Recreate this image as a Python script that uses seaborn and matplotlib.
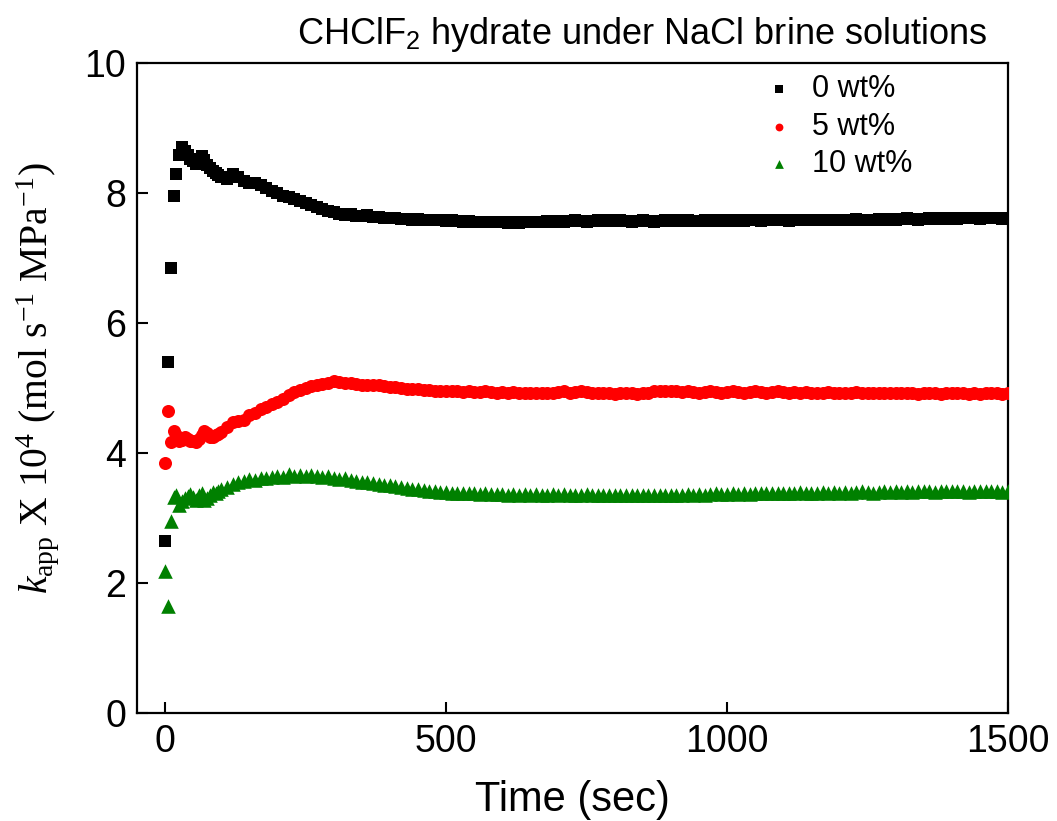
import numpy as np
import pandas as pd
import matplotlib
matplotlib.use("Agg")
import matplotlib.pyplot as plt
import seaborn as sns

# ---------------- data ----------------
time_early = list(range(0, 100, 5))          # 0..95 s, 5 s steps
time_late = list(range(100, 1501, 10))       # 100..1500 s, 10 s steps
time = time_early + time_late

black_early = [2.65, 5.40, 6.84, 7.96, 8.29, 8.58, 8.70, 8.65, 8.58, 8.53,
               8.49, 8.45, 8.52, 8.57, 8.50, 8.43, 8.39, 8.34, 8.31, 8.27]
black_late = [8.24, 8.21, 8.29, 8.24, 8.19, 8.16, 8.15, 8.12, 8.08, 8.03,
              8.00, 7.96, 7.94, 7.91, 7.88, 7.85, 7.82, 7.78, 7.76, 7.73,
              7.70, 7.68, 7.66, 7.67, 7.65, 7.64, 7.66, 7.63, 7.63, 7.62,
              7.61, 7.62, 7.60, 7.60, 7.59, 7.60, 7.59, 7.58, 7.59, 7.58,
              7.57, 7.58, 7.57, 7.56, 7.57, 7.56, 7.56, 7.55, 7.56, 7.55,
              7.55, 7.54, 7.55, 7.54, 7.55, 7.56, 7.55, 7.56, 7.57, 7.56,
              7.57, 7.56, 7.57, 7.58, 7.57, 7.56, 7.57, 7.58, 7.57, 7.58,
              7.57, 7.58, 7.57, 7.56, 7.57, 7.58, 7.57, 7.56, 7.57, 7.58,
              7.57, 7.58, 7.57, 7.58, 7.57, 7.57, 7.58, 7.57, 7.58, 7.57,
              7.58, 7.57, 7.58, 7.57, 7.58, 7.58, 7.57, 7.58, 7.59, 7.58,
              7.58, 7.57, 7.58, 7.59, 7.58, 7.58, 7.59, 7.58, 7.59, 7.58,
              7.59, 7.58, 7.59, 7.60, 7.59, 7.58, 7.59, 7.60, 7.59, 7.60,
              7.59, 7.60, 7.61, 7.60, 7.59, 7.60, 7.61, 7.60, 7.61, 7.60,
              7.61, 7.60, 7.61, 7.62, 7.61, 7.60, 7.61, 7.62, 7.61, 7.60,
              7.61]

red_early = [3.84, 4.65, 4.17, 4.34, 4.27, 4.18, 4.20, 4.24, 4.22, 4.18,
             4.19, 4.17, 4.22, 4.28, 4.34, 4.30, 4.25, 4.24, 4.27, 4.29]
red_late = [4.33, 4.40, 4.47, 4.49, 4.51, 4.58, 4.62, 4.67, 4.70, 4.75,
            4.79, 4.83, 4.89, 4.94, 4.97, 5.00, 5.03, 5.04, 5.06, 5.08,
            5.11, 5.09, 5.08, 5.07, 5.06, 5.05, 5.04, 5.05, 5.04, 5.03,
            5.02, 5.01, 5.00, 4.99, 4.98, 4.98, 4.97, 4.97, 4.96, 4.96,
            4.95, 4.96, 4.95, 4.94, 4.95, 4.94, 4.94, 4.95, 4.94, 4.93,
            4.94, 4.93, 4.94, 4.93, 4.92, 4.93, 4.92, 4.93, 4.92, 4.93,
            4.94, 4.95, 4.93, 4.94, 4.95, 4.94, 4.93, 4.92, 4.93, 4.92,
            4.91, 4.92, 4.93, 4.92, 4.91, 4.92, 4.93, 4.95, 4.96, 4.95,
            4.96, 4.95, 4.94, 4.95, 4.94, 4.93, 4.94, 4.95, 4.94, 4.93,
            4.94, 4.95, 4.94, 4.93, 4.94, 4.95, 4.94, 4.93, 4.94, 4.95,
            4.94, 4.93, 4.94, 4.93, 4.94, 4.93, 4.92, 4.93, 4.94, 4.93,
            4.93, 4.92, 4.93, 4.94, 4.93, 4.92, 4.93, 4.92, 4.93, 4.92,
            4.93, 4.92, 4.93, 4.92, 4.91, 4.92, 4.93, 4.92, 4.91, 4.92,
            4.92, 4.93, 4.92, 4.91, 4.92, 4.91, 4.92, 4.93, 4.92, 4.91,
            4.92]

green_early = [2.18, 1.64, 2.95, 3.33, 3.36, 3.20, 3.26, 3.30, 3.34, 3.37,
               3.32, 3.28, 3.35, 3.38, 3.27, 3.30, 3.36, 3.40, 3.38, 3.42]
green_late = [3.44, 3.48, 3.52, 3.55, 3.57, 3.60, 3.59, 3.62, 3.61, 3.63,
              3.64, 3.63, 3.67, 3.65, 3.66, 3.64, 3.66, 3.64, 3.63, 3.64,
              3.62, 3.60, 3.61, 3.59, 3.57, 3.56, 3.55, 3.54, 3.52, 3.51,
              3.50, 3.49, 3.48, 3.46, 3.45, 3.44, 3.43, 3.42, 3.41, 3.40,
              3.40, 3.39, 3.39, 3.38, 3.39, 3.38, 3.37, 3.38, 3.37, 3.37,
              3.37, 3.36, 3.37, 3.36, 3.37, 3.36, 3.37, 3.36, 3.36, 3.37,
              3.36, 3.37, 3.36, 3.35, 3.36, 3.37, 3.36, 3.35, 3.36, 3.36,
              3.35, 3.36, 3.35, 3.36, 3.35, 3.36, 3.35, 3.36, 3.35, 3.36,
              3.36, 3.35, 3.36, 3.37, 3.36, 3.37, 3.36, 3.37, 3.38, 3.37,
              3.37, 3.38, 3.37, 3.38, 3.37, 3.38, 3.39, 3.38, 3.39, 3.38,
              3.39, 3.38, 3.39, 3.40, 3.39, 3.38, 3.39, 3.40, 3.39, 3.40,
              3.39, 3.40, 3.39, 3.40, 3.41, 3.40, 3.39, 3.40, 3.41, 3.40,
              3.41, 3.40, 3.41, 3.40, 3.41, 3.42, 3.41, 3.40, 3.41, 3.42,
              3.41, 3.42, 3.41, 3.40, 3.41, 3.42, 3.41, 3.42, 3.41, 3.40,
              3.41]

series_labels = ["0 wt%", "5 wt%", "10 wt%"]
series_values = [black_early + black_late, red_early + red_late, green_early + green_late]
series_colors = ["black", "#ff0000", "#008000"]
series_markers = ["s", "o", "^"]
series_sizes = [78, 88, 110]

x_ticks = [0, 500, 1000, 1500]
y_ticks = [0, 2, 4, 6, 8, 10]

# ---------------- style ----------------
sns.set_theme(style="white")
plt.rcParams["font.family"] = ["Liberation Sans", "DejaVu Sans"]
plt.rcParams["text.color"] = "black"
plt.rcParams["axes.labelcolor"] = "black"
plt.rcParams["xtick.color"] = "black"
plt.rcParams["ytick.color"] = "black"
plt.rcParams["mathtext.fontset"] = "custom"
plt.rcParams["mathtext.rm"] = "Liberation Serif"
plt.rcParams["mathtext.it"] = "Liberation Serif:italic"
plt.rcParams["mathtext.sf"] = "Liberation Sans"

fig = plt.figure(figsize=(10.57, 8.21), dpi=100)
ax = fig.add_axes([137 / 1057, 1 - 713 / 821, (1008 - 137) / 1057, (713 - 63) / 821])

for lab, vals, col, mk, sz in zip(series_labels, series_values, series_colors,
                                  series_markers, series_sizes):
    df = pd.DataFrame({"time": time, "k": vals})
    sns.scatterplot(data=df, x="time", y="k", ax=ax, color=col, marker=mk,
                    s=sz, linewidth=0, label=lab, zorder=3)

ax.set_xlim(-50, 1500)
ax.set_ylim(0, 10)
ax.set_xticks(x_ticks)
ax.set_yticks(y_ticks)
ax.tick_params(axis="both", direction="in", length=8, width=1.5, labelsize=27,
               colors="black", pad=8, top=False, right=False, bottom=True, left=True)
for sp in ax.spines.values():
    sp.set_linewidth(1.6)
    sp.set_color("black")

ax.set_xlabel("Time (sec)", fontsize=30, labelpad=14, color="black")
ax.set_ylabel(r"$k_\mathrm{app}$ X 10$^4$ (mol s$^{-1}$ MPa$^{-1}$)",
              fontsize=28.5, family="Liberation Serif", color="black")
ax.yaxis.set_label_coords(-0.087, 0.515)

fig.text(988 / 1057, 1 - 44 / 821, r"CHClF$_\mathsf{2}$ hydrate under NaCl brine solutions",
         ha="right", va="baseline", fontsize=26, color="black")

leg = ax.legend(loc="upper left", bbox_to_anchor=(0.684, 1.025), frameon=False,
                fontsize=22, markerscale=0.6, handletextpad=0.5, labelspacing=0.24,
                handlelength=1.2)
for t in leg.get_texts():
    t.set_color("black")

fig.savefig("out.png", dpi=100)
